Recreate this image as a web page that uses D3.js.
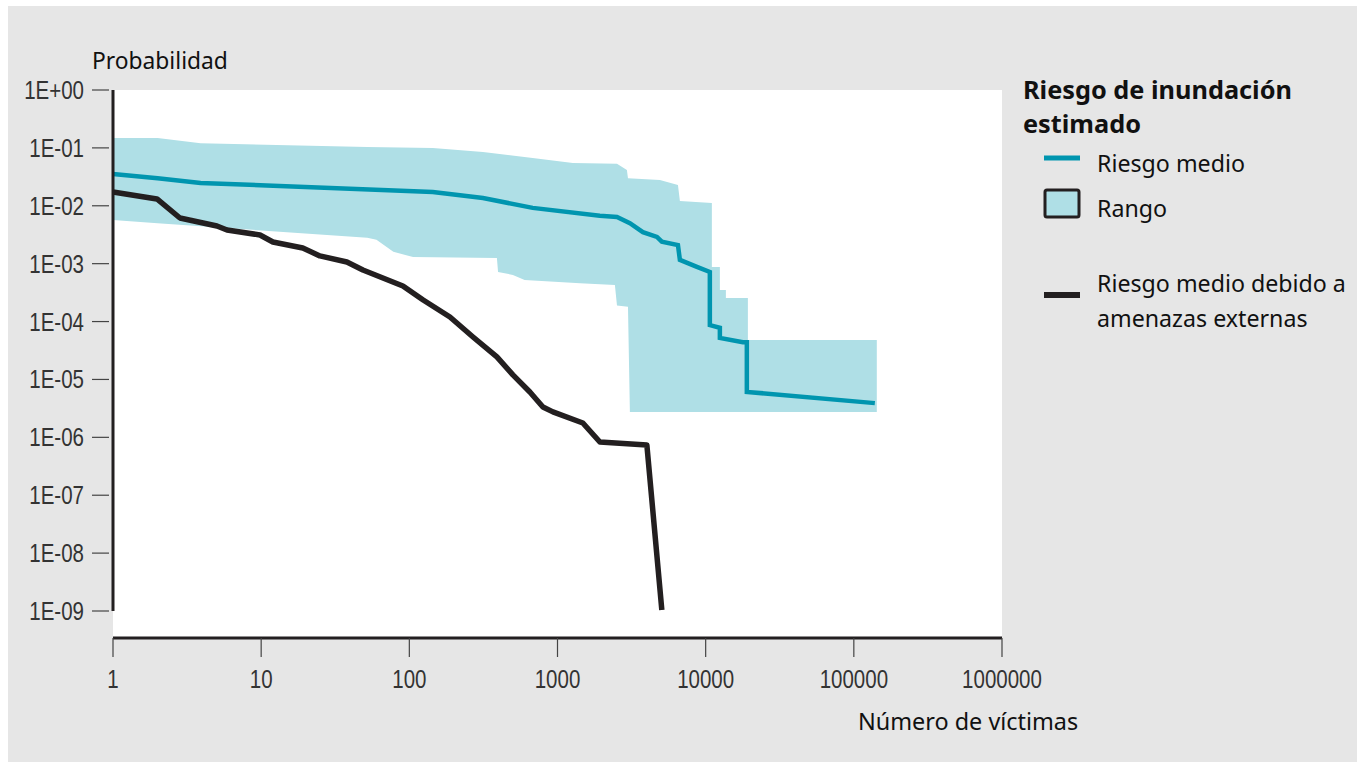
<!DOCTYPE html>
<html><head><meta charset="utf-8">
<script src="https://cdn.jsdelivr.net/npm/d3@7"></script>
<style>
html,body{margin:0;padding:0;background:#fff;}
svg{display:block;}
</style></head>
<body><svg id="chart" width="1364" height="768"></svg>
<script>
// ---- data (victims, probability) ----
const xTicks = [1, 10, 100, 1000, 10000, 100000, 1000000];
const yTicks = [1, 1e-1, 1e-2, 1e-3, 1e-4, 1e-5, 1e-6, 1e-7, 1e-8, 1e-9];
const yTickLabels = ["1E+00","1E-01","1E-02","1E-03","1E-04","1E-05","1E-06","1E-07","1E-08","1E-09"];

const meanRisk = [[1,0.0354],[2,0.030],[3.9,0.0248],[144,0.0173],[314,0.0136],[680,0.0092],[1930,0.0067],
  [2520,0.0064],[3080,0.0050],[3770,0.0035],[4690,0.0029],[5060,0.0024],[6500,0.0021],[6700,0.00116],[8730,0.00088],
  [10670,0.00072],[10670,8.7e-5],[12470,7.8e-5],[12470,5.2e-5],[17830,4.4e-5],[18960,4.4e-5],[18960,6.1e-6],[138600,3.9e-6]];

const rangeUpper = [[1,0.148],[2,0.148],[3.9,0.12],[52,0.104],[144,0.0996],[314,0.085],[680,0.067],[1270,0.055],
  [2520,0.053],[2940,0.0415],[2990,0.030],[4910,0.0279],[6500,0.0229],[6700,0.0121],[11010,0.0112],[11010,0.00088],
  [12470,0.00088],[12470,0.00035],[13690,0.00035],[13690,0.000256],[19270,0.000256],[19270,4.8e-5],[142900,4.8e-5],[142900,2.75e-6]];

const rangeLower = [[1,0.0057],[2,0.0050],[52,0.0028],[60,0.0026],[78,0.0016],[106,0.0013],[390,0.00125],[397,0.00072],
  [500,0.00064],[600,0.00052],[1420,0.00046],[2440,0.00043],[2520,0.00019],[2990,0.00018],[3080,2.75e-6],[142900,2.75e-6]];

const externalRisk = [[1,0.0173],[1.98,0.0131],[2.83,0.00615],[5.03,0.00448],[5.88,0.00382],[9.82,0.00313],[12,0.00237],
  [19.1,0.00187],[24.9,0.00136],[37.9,0.00107],[48.6,0.000778],[90.5,0.000412],[124,0.000236],[188,0.00012],
  [269,5.42e-5],[390,2.45e-5],[500,1.2e-5],[651,6.08e-6],[797,3.35e-6],[931,2.75e-6],[1483,1.77e-6],[1932,8.3e-7],
  [4010,7.4e-7],[5060,1.04e-9]];

const legendTitle = ["Riesgo de inundación", "estimado"];
const legendItems = ["Riesgo medio", "Rango", ["Riesgo medio debido a", "amenazas externas"]];

// ---- layout ----
const svg = d3.select("#chart");
const L = 113, R = 1002, T = 90, B = 638;
const x = d3.scaleLog().domain([1, 1e6]).range([L, R]);
const y = d3.scaleLog().domain([1e-9, 1]).range([611, 90]);

const TEAL = "#0095af", BAND = "#afdfe6", DARK = "#231f20";
const FONT = "'Noto Sans', 'DejaVu Sans', sans-serif";
const NARROW = "'Liberation Sans', Arial, sans-serif";
const SQ = 0.82;

svg.append("rect").attr("x", 8).attr("y", 6).attr("width", 1349).attr("height", 756).attr("fill", "#e6e6e6");
svg.append("rect").attr("x", L).attr("y", T).attr("width", R - L).attr("height", B - T).attr("fill", "#fff");

// range band
const line = d3.line().x(d => x(d[0])).y(d => y(d[1]));
const poly = rangeUpper.concat(rangeLower.slice().reverse());
svg.append("path").attr("d", line(poly) + "Z").attr("fill", BAND).attr("stroke", "none");

// mean line
svg.append("path").attr("d", line(meanRisk)).attr("fill", "none").attr("stroke", TEAL)
  .attr("stroke-width", 4.5).attr("stroke-linejoin", "miter");

// external line
svg.append("path").attr("d", line(externalRisk)).attr("fill", "none").attr("stroke", DARK)
  .attr("stroke-width", 5.5).attr("stroke-linejoin", "round");

// y axis
const yAxis = svg.append("g");
yAxis.append("line").attr("x1", L).attr("x2", L).attr("y1", y(1)).attr("y2", y(1e-9))
  .attr("stroke", DARK).attr("stroke-width", 3);
yTicks.forEach((v, i) => {
  yAxis.append("line").attr("x1", 92).attr("x2", 109).attr("y1", y(v)).attr("y2", y(v))
    .attr("stroke", "#444").attr("stroke-width", 1.2);
  yAxis.append("text").attr("transform", `translate(84,${y(v)}) scale(${SQ},1)`).attr("dy", "0.36em")
    .attr("text-anchor", "end").attr("font-family", NARROW).attr("font-size", 25).attr("fill", "#333")
    .text(yTickLabels[i]);
});

// x axis
const xAxis = svg.append("g");
xAxis.append("line").attr("x1", L).attr("x2", R).attr("y1", B).attr("y2", B)
  .attr("stroke", DARK).attr("stroke-width", 3);
xTicks.forEach(v => {
  xAxis.append("line").attr("x1", x(v)).attr("x2", x(v)).attr("y1", B).attr("y2", 657)
    .attr("stroke", "#444").attr("stroke-width", 1.2);
  xAxis.append("text").attr("transform", `translate(${x(v)},688) scale(${SQ},1)`).attr("text-anchor", "middle")
    .attr("font-family", NARROW).attr("font-size", 25).attr("fill", "#333").text(d3.format("d")(v));
});

// axis titles
svg.append("text").attr("x", 92).attr("y", 69).attr("font-family", FONT).attr("font-size", 22.8)
  .attr("fill", "#111").text("Probabilidad");
svg.append("text").attr("x", 858).attr("y", 730).attr("font-family", FONT).attr("font-size", 23.4)
  .attr("fill", "#111").text("Número de víctimas");

// legend
const lg = svg.append("g");
legendTitle.forEach((t, i) => {
  lg.append("text").attr("x", 1023).attr("y", 99 + i * 34).attr("font-family", FONT).attr("font-weight", "bold")
    .attr("font-size", 25.3).attr("fill", "#111").text(t);
});
lg.append("line").attr("x1", 1044).attr("x2", 1080).attr("y1", 158).attr("y2", 158).attr("stroke", TEAL).attr("stroke-width", 5);
lg.append("text").attr("x", 1097).attr("y", 172).attr("font-family", FONT).attr("font-size", 23.2).attr("fill", "#111").text(legendItems[0]);
lg.append("rect").attr("x", 1045).attr("y", 190).attr("width", 34).attr("height", 27).attr("fill", BAND)
  .attr("stroke", DARK).attr("stroke-width", 3).attr("rx", 2);
lg.append("text").attr("x", 1097).attr("y", 217).attr("font-family", FONT).attr("font-size", 23.2).attr("fill", "#111").text(legendItems[1]);
lg.append("line").attr("x1", 1044).attr("x2", 1080).attr("y1", 295).attr("y2", 295).attr("stroke", DARK).attr("stroke-width", 6);
legendItems[2].forEach((t, i) => {
  lg.append("text").attr("x", 1097).attr("y", 292 + i * 35).attr("font-family", FONT).attr("font-size", 23.2)
    .attr("fill", "#111").text(t);
});
</script>
</body></html>
